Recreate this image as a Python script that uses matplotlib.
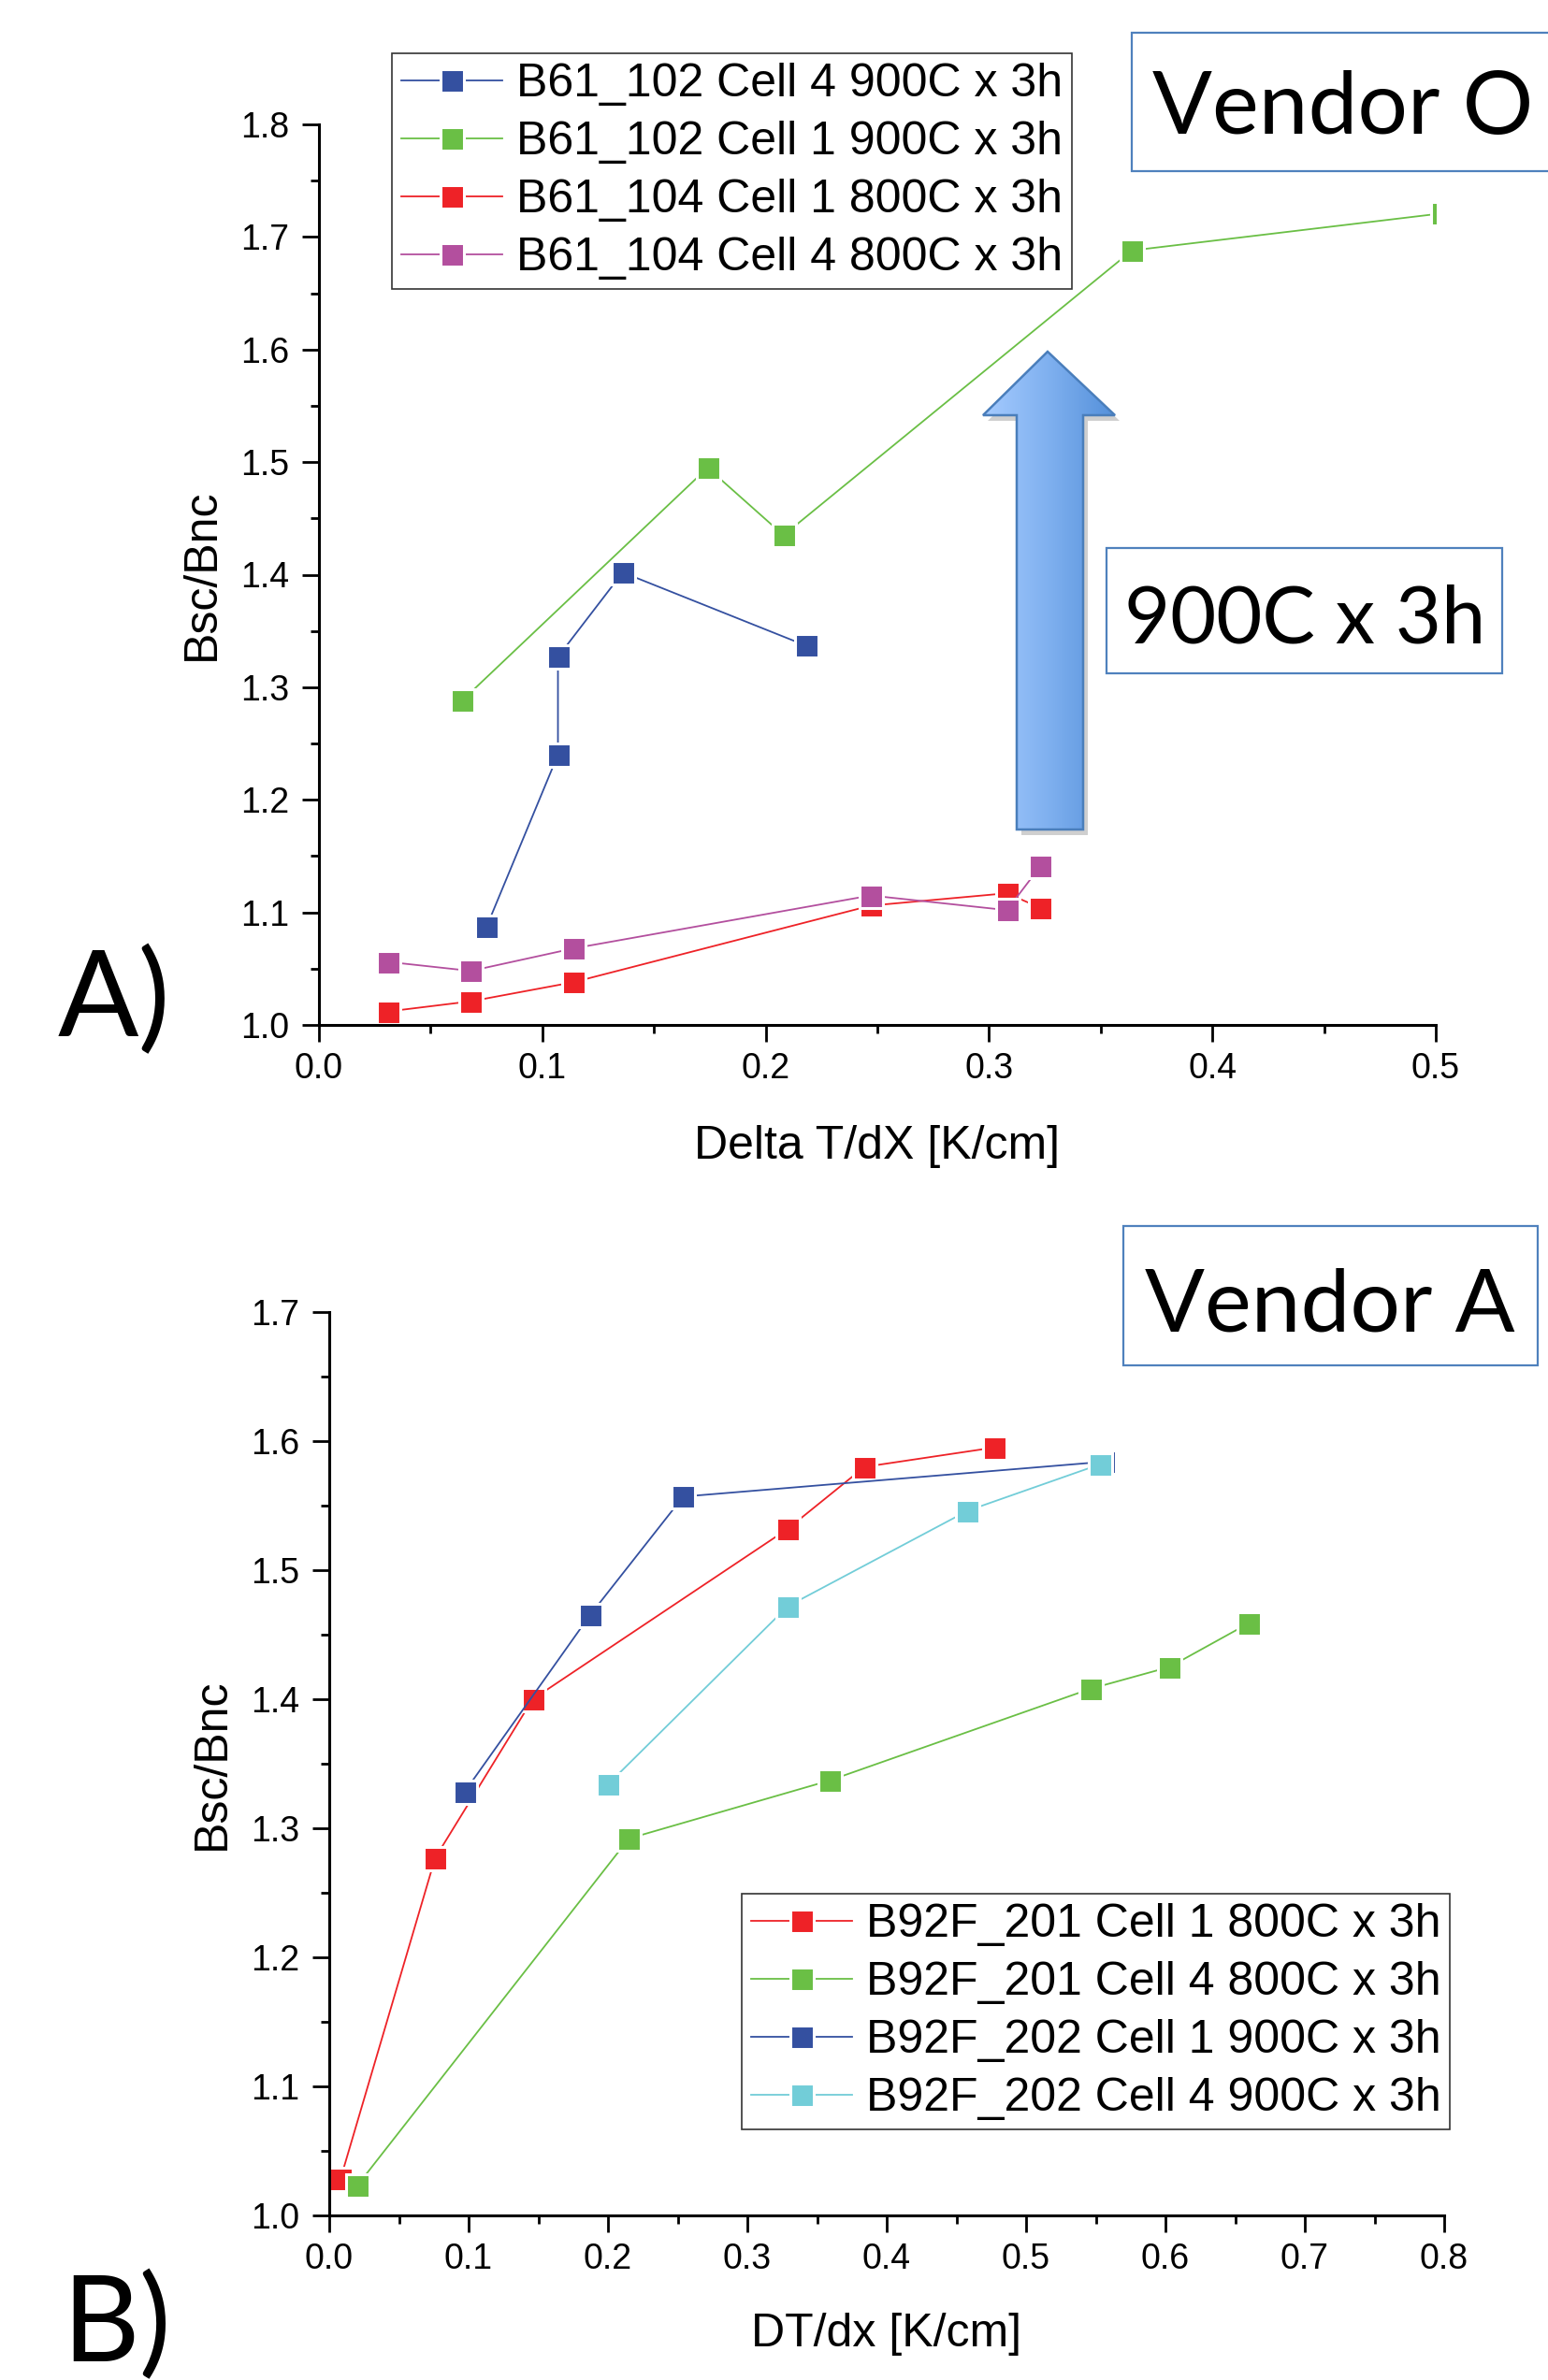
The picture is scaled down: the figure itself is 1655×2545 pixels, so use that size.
import numpy as np
import matplotlib
matplotlib.use("Agg")
import matplotlib.pyplot as plt
from matplotlib.patches import Polygon, Rectangle
from matplotlib.colors import LinearSegmentedColormap
from matplotlib.ticker import MultipleLocator, FormatStrFormatter

plt.rcParams['font.family'] = ['Liberation Sans', 'DejaVu Sans']

# ---- data: A) Vendor O ----
a_labels = ['B61_102 Cell 4 900C x 3h', 'B61_102 Cell 1 900C x 3h',
            'B61_104 Cell 1 800C x 3h', 'B61_104 Cell 4 800C x 3h']
a_x = [[0.075, 0.107, 0.107, 0.136, 0.218],
       [0.064, 0.174, 0.208, 0.364, 0.503],
       [0.031, 0.068, 0.114, 0.247, 0.308, 0.323],
       [0.031, 0.068, 0.114, 0.247, 0.308, 0.323]]
a_y = [[1.087, 1.240, 1.327, 1.402, 1.337],
       [1.288, 1.495, 1.435, 1.688, 1.721],
       [1.012, 1.021, 1.038, 1.106, 1.117, 1.104],
       [1.056, 1.048, 1.068, 1.115, 1.102, 1.141]]
a_colors = ['#3450a0', '#6abf45', '#ee2227', '#b34f9e']

# ---- data: B) Vendor A ----
b_labels = ['B92F_201 Cell 1 800C x 3h', 'B92F_201 Cell 4 800C x 3h',
            'B92F_202 Cell 1 900C x 3h', 'B92F_202 Cell 4 900C x 3h']
b_x = [[0.008, 0.076, 0.146, 0.329, 0.384, 0.477],
       [0.020, 0.215, 0.359, 0.546, 0.603, 0.660],
       [0.097, 0.187, 0.254, 0.556],
       [0.200, 0.329, 0.458, 0.553]]
b_y = [[1.028, 1.277, 1.400, 1.532, 1.580, 1.595],
       [1.023, 1.292, 1.337, 1.408, 1.425, 1.459],
       [1.328, 1.465, 1.557, 1.584],
       [1.334, 1.472, 1.546, 1.582]]
b_colors = ['#ee2227', '#6abf45', '#3450a0', '#72cdd8']

W, H = 1655, 2545
fig = plt.figure(figsize=(W / 100, H / 100), dpi=100)


def style_axes(ax, xmax, ymax, xlabel):
    ax.set_xlim(0, xmax)
    ax.set_ylim(1.0, ymax)
    for s in ['top', 'right']:
        ax.spines[s].set_visible(False)
    for s in ['left', 'bottom']:
        ax.spines[s].set_linewidth(2.2)
    ax.xaxis.set_major_locator(MultipleLocator(0.1))
    ax.xaxis.set_minor_locator(MultipleLocator(0.05))
    ax.yaxis.set_major_locator(MultipleLocator(0.1))
    ax.yaxis.set_minor_locator(MultipleLocator(0.05))
    ax.xaxis.set_major_formatter(FormatStrFormatter('%.1f'))
    ax.yaxis.set_major_formatter(FormatStrFormatter('%.1f'))
    ax.tick_params(which='major', direction='out', length=13, width=2, labelsize=27)
    ax.tick_params(which='minor', direction='out', length=6.5, width=2)
    ax.tick_params(axis='x', which='major', pad=8)
    ax.tick_params(axis='y', which='major', pad=10)
    ax.set_xlabel(xlabel, fontsize=36)
    ax.set_ylabel('Bsc/Bnc', fontsize=36)
    ax.xaxis.label.set_va('center')
    ax.yaxis.label.set_va('center')


def draw_series(ax, xs, ys, colors, labels):
    for x, y, c, lab in zip(xs, ys, colors, labels):
        ax.plot(x, y, '-s', color=c, lw=1.3, ms=18, mec='white', mew=2.2, label=lab)


def add_legend(ax, x0, y0):
    leg = ax.legend(loc='upper left', bbox_to_anchor=(x0 / W, 1 - y0 / H),
                    bbox_transform=fig.transFigure, fontsize=36, frameon=True,
                    fancybox=False, edgecolor='#333333', framealpha=1,
                    borderpad=0.2, borderaxespad=0, handlelength=2.15,
                    handletextpad=0.3, labelspacing=0.32)
    leg.get_frame().set_linewidth(1.2)


# A)
ax1 = fig.add_axes([341 / W, 1 - 1096 / H, 1194 / W, 963 / H])
style_axes(ax1, 0.5, 1.8, 'Delta T/dX [K/cm]')
draw_series(ax1, a_x, a_y, a_colors, a_labels)
ax1.xaxis.set_label_coords(0.5, -0.135)
ax1.yaxis.set_label_coords(-0.105, 0.5)
add_legend(ax1, 419, 57)

# B)
ax2 = fig.add_axes([352 / W, 1 - 2369 / H, 1192 / W, 966 / H])
style_axes(ax2, 0.8, 1.7, 'DT/dx [K/cm]')
draw_series(ax2, b_x, b_y, b_colors, b_labels)
ax2.xaxis.set_label_coords(0.5, -0.131)
ax2.yaxis.set_label_coords(-0.105, 0.5)
add_legend(ax2, 793, 2025)

# overlay in pixel coordinates for annotations
ov = fig.add_axes([0, 0, 1, 1], zorder=5)
ov.set_xlim(0, W)
ov.set_ylim(H, 0)
ov.axis('off')
ov.patch.set_alpha(0)

cal = ['Lato', 'DejaVu Sans']
box_kw = dict(facecolor='white', edgecolor='#4f81bd', lw=1.6)
ov.add_patch(Rectangle((1210, 35), 470, 148, **box_kw))
ov.text(1232, 143, 'Vendor O', fontsize=68, family=cal, va='baseline')
ov.add_patch(Rectangle((1183, 586), 423, 134, **box_kw))
ov.text(1202, 687, '900C x 3h', fontsize=61, family=cal, va='baseline')
ov.add_patch(Rectangle((1201, 1311), 443, 149, **box_kw))
ov.text(1224, 1424, 'Vendor A', fontsize=68, family=cal, va='baseline')

ov.text(62, 1108, 'A)', fontsize=92, family=cal, va='baseline')
ov.text(66, 2525, 'B)', fontsize=92, family=cal, va='baseline')

# gradient arrow
arrow_pts = [(1120, 376), (1192, 444), (1158, 444), (1158, 887),
             (1087, 887), (1087, 444), (1051, 444)]
shadow = Polygon([(px + 5, py + 6) for px, py in arrow_pts], closed=True,
                 facecolor='#777777', edgecolor='none', alpha=0.35)
ov.add_patch(shadow)
arrow = Polygon(arrow_pts, closed=True, facecolor='none', edgecolor='#4a7ebb', lw=1.8)
ov.add_patch(arrow)
grad_cmap = LinearSegmentedColormap.from_list('arrowgrad', ['#a5cbff', '#7fb0ef', '#5490da'])
im = ov.imshow(np.linspace(0, 1, 256).reshape(1, -1), cmap=grad_cmap, aspect='auto',
               extent=(1051, 1192, 887, 376), zorder=1)
im.set_clip_path(arrow)
arrow.set_zorder(2)
ov.set_xlim(0, W)
ov.set_ylim(H, 0)

fig.savefig('out.png', dpi=100)
